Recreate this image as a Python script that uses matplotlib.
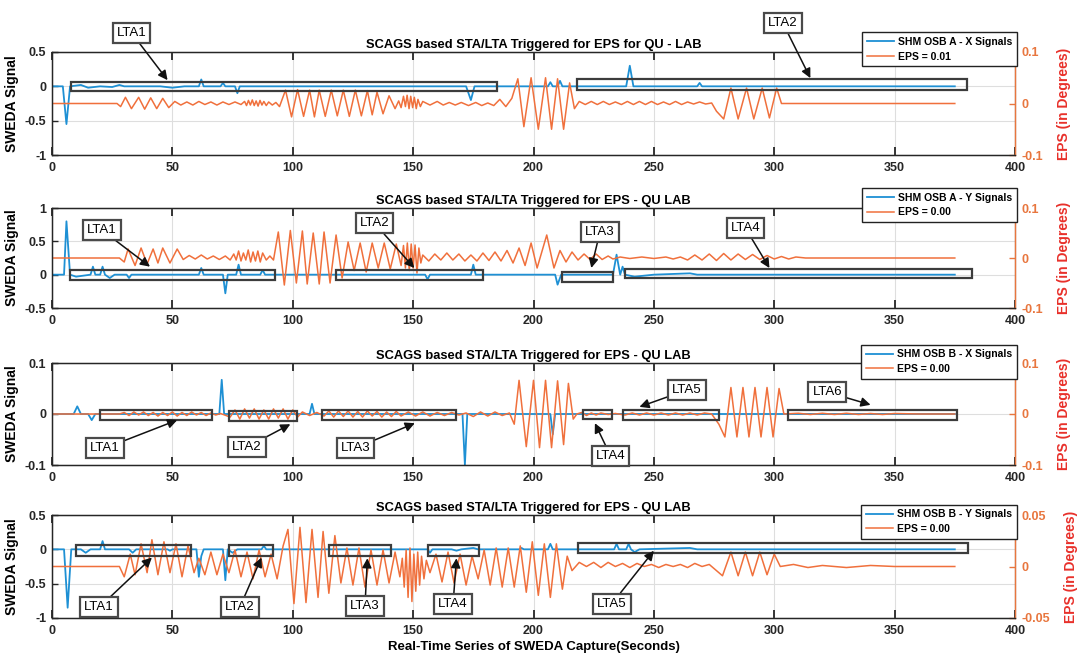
import matplotlib
matplotlib.use('Agg')
import matplotlib.pyplot as plt
from matplotlib.patches import Rectangle

plt.rcParams['font.family'] = ['Liberation Sans', 'DejaVu Sans']

# ---------------- data ----------------
TITLES = ['SCAGS based STA/LTA Triggered for EPS for QU - LAB',
          'SCAGS based STA/LTA Triggered for EPS - QU LAB',
          'SCAGS based STA/LTA Triggered for EPS - QU LAB',
          'SCAGS based STA/LTA Triggered for EPS - QU LAB']
SIG_LABELS = ['SHM OSB A - X Signals', 'SHM OSB A - Y Signals',
              'SHM OSB B - X Signals', 'SHM OSB B - Y Signals']
EPS_LABELS = ['EPS = 0.01', 'EPS = 0.00', 'EPS = 0.00', 'EPS = 0.00']
X_TICKS = [0, 50, 100, 150, 200, 250, 300, 350, 400]
LEFT_LIMS = [(-1, 0.5), (-0.5, 1), (-0.1, 0.1), (-1, 0.5)]
LEFT_TICKS = [[-1, -0.5, 0, 0.5], [-0.5, 0, 0.5, 1], [-0.1, 0, 0.1], [-1, -0.5, 0, 0.5]]
RIGHT_LIMS = [(-0.1, 0.1), (-0.1, 0.1), (-0.1, 0.1), (-0.05, 0.05)]
RIGHT_TICKS = [[-0.1, 0, 0.1], [-0.1, 0, 0.1], [-0.1, 0, 0.1], [-0.05, 0, 0.05]]

# SWEDA signal (left axis): (time, value)
P1_SIG = [(0, 0), (4.5, 0), (6, -0.55), (7.5, 0), (12, 0.02), (15, -0.02), (20, 0), (25, -0.01), (28, 0.02),
          (30, 0), (45, 0), (50, -0.02), (55, 0), (61, 0), (62, 0.1), (63, 0), (70, 0), (71, 0.05), (72, 0),
          (76, 0), (77, -0.1), (78, 0), (172, 0), (174, -0.2), (175.5, 0), (206, 0), (207, 0.06), (208, 0),
          (210, 0), (211, 0.08), (212, 0), (238.5, 0), (240, 0.3), (241.5, 0), (268, 0), (269, 0.05),
          (270, 0), (375, 0)]
P2_SIG = [(0, 0), (5, 0), (6, 0.8), (7.5, 0), (10, -0.03), (16, 0), (17, 0.12), (18, 0), (20, 0), (21, 0.12),
          (22, 0), (24, -0.05), (26, 0), (31, 0), (32, -0.05), (33, 0), (61, 0), (62, 0.1), (63, 0), (71, 0),
          (72, -0.28), (73, 0), (76.5, 0), (77.5, 0.15), (78.5, 0), (86.5, 0), (87.5, 0.07), (88.5, 0),
          (155, 0), (156, -0.07), (157, 0), (174, 0), (175, 0.15), (176, 0), (209, 0), (210, -0.15),
          (211.5, 0), (233, 0), (234.5, 0.3), (236, 0), (237, 0.12), (238, 0), (242, -0.03), (250, 0),
          (265, 0.02), (268, 0), (375, 0)]
P3_SIG = [(0, 0), (9, 0), (10.5, 0.015), (12, 0), (15, 0), (16.5, -0.012), (18, 0), (69.5, 0), (70.5, 0.067),
          (71.5, 0), (107, 0), (108, 0.02), (109, 0), (170.5, 0), (171.5, -0.1), (172.5, 0), (207, 0),
          (208, -0.04), (209, 0), (375, 0)]
P4_SIG = [(0, 0), (5, 0), (6.5, -0.85), (8, 0), (12, 0), (14, -0.05), (16, 0), (20, 0), (21, 0.12), (22, 0),
          (32, 0), (33.5, -0.05), (35, 0), (48, 0), (49, -0.02), (50, 0), (60, 0), (61, -0.4), (62, -0.1),
          (63, 0), (71, 0), (72, -0.45), (73, 0), (75, -0.05), (77, 0), (87, 0), (88, 0.05), (89, 0),
          (156, 0), (157, -0.05), (158, 0), (166, 0), (168, -0.02), (170, 0), (175, 0.02), (177, 0),
          (194, 0), (195, 0.02), (196, 0), (206, 0), (207, 0.08), (208, 0), (233.5, 0), (234.5, 0.08),
          (235.5, 0), (238.5, 0), (239.5, 0.08), (240.5, 0), (242, -0.04), (244, 0), (265, 0.02), (268, 0),
          (375, 0)]

# EPS (right axis, degrees): (time, value)
P1_EPS = [(0, 0), (27, 0), (28.5, -0.006), (30.5, 0.012), (33, -0.01), (36, 0.012), (38.5, -0.011),
          (41, 0.011), (43.5, -0.01), (46, 0.01), (48.5, -0.008), (51, 0.004), (53.5, -0.003), (56, 0.003),
          (58.5, -0.003), (61, 0.004), (63.5, -0.002), (66, 0.003), (68.5, -0.003), (71, 0.003),
          (73.5, -0.002), (76, 0.003), (78.5, -0.002), (80, 0.004), (80.8, -0.004), (81.6, 0.006),
          (82.4, -0.003), (83.2, 0.007), (84, -0.004), (84.8, 0.005), (85.6, -0.005), (86.4, 0.006),
          (87.2, -0.003), (88, 0.004), (89, -0.004), (90, 0.003), (91.5, -0.003), (93, 0.002),
          (94.5, -0.006), (97, 0.026), (99.5, -0.026), (102, 0.027), (104.5, -0.025), (107, 0.026),
          (109, -0.026), (111, 0.026), (113.5, -0.025), (116, 0.026), (118.5, -0.024), (121, 0.026),
          (123.5, -0.025), (126, 0.026), (128.5, -0.024), (131, 0.025), (133, -0.022), (135, 0.022),
          (137.5, -0.02), (140, 0.015), (142.5, -0.01), (144, 0.005), (145, -0.008), (146, 0.014),
          (146.8, -0.006), (147.5, 0.016), (148.3, -0.01), (149, 0.014), (149.8, -0.008), (150.5, 0.012),
          (151.3, -0.01), (152, 0.008), (153, -0.006), (154, 0.004), (157, -0.003), (160, 0.004),
          (162.5, -0.003), (165, 0.002), (167.5, -0.003), (170, 0.002), (173, -0.004), (176, 0.002),
          (178.5, -0.004), (181, 0.001), (183.5, -0.004), (186, 0.008), (188.5, -0.006), (191, 0.01),
          (193.5, 0.048), (196, -0.045), (199, 0.05), (202, -0.05), (205, 0.05), (207.5, -0.05),
          (210, 0.048), (212.5, -0.05), (215, 0.04), (217, -0.01), (219, 0.004), (221.5, -0.002),
          (224, 0.004), (226.5, -0.002), (229, 0.004), (231.5, -0.002), (234, 0.003), (236.5, -0.002),
          (239, 0.004), (241.5, -0.002), (244, 0.004), (246.5, -0.002), (249, 0.004), (251.5, -0.002),
          (254, 0.003), (256.5, -0.002), (259, 0.004), (261.5, -0.002), (264, 0.003), (266.5, -0.001),
          (269, 0.003), (271.5, -0.001), (274, 0.001), (276, -0.015), (279, -0.03), (282, 0.03),
          (285, -0.03), (288.5, 0.03), (291.5, -0.03), (295, 0.03), (298, -0.028), (301, 0.03),
          (303, 0.0), (375, 0)]
P2_EPS = [(0, 0), (28, 0), (30, -0.008), (31.6, 0.018), (34.5, -0.015), (37, 0.02), (39.5, -0.012),
          (42, 0.018), (44, -0.01), (46, 0.02), (49, -0.01), (52, 0.018), (54.5, -0.003), (57, 0.005),
          (59.5, -0.002), (62, 0.006), (64.5, -0.002), (67, 0.004), (69.5, -0.003), (72, 0.004),
          (74, -0.004), (75.5, 0.008), (76.5, -0.004), (77.5, 0.014), (78.5, -0.006), (79.5, 0.01),
          (80.5, -0.004), (81.5, 0.016), (82.5, -0.008), (83.5, 0.012), (84.5, -0.006), (85.5, 0.014),
          (86.5, -0.008), (87.5, 0.01), (89, -0.004), (90.5, 0.004), (92, -0.004), (94, 0.052),
          (96.5, -0.054), (99, 0.055), (101.5, -0.05), (104, 0.054), (106, -0.052), (108.5, 0.05),
          (111, -0.052), (113, 0.052), (115.5, -0.05), (118, 0.046), (120.5, -0.04), (123, 0.032),
          (125.5, -0.025), (128, 0.03), (130.5, -0.028), (133, 0.03), (135.5, -0.02), (138, 0.03),
          (140.5, -0.022), (143, 0.028), (145, -0.015), (146, 0.025), (146.8, -0.02), (147.6, 0.03),
          (148.4, -0.025), (149.2, 0.028), (150, -0.02), (150.8, 0.026), (151.6, -0.03), (152.4, 0.02),
          (153.2, -0.01), (154, 0.006), (156.5, -0.006), (159, 0.008), (161.5, -0.004), (164, 0.01),
          (166.5, -0.004), (169, 0.008), (171.5, -0.006), (174, 0.006), (176.5, -0.006), (179, 0.01),
          (181.5, -0.005), (184, 0.012), (186.5, -0.006), (189, 0.015), (191.5, -0.01), (194, 0.02),
          (196.5, -0.015), (199, 0.03), (201.5, -0.02), (205.5, 0.046), (208.5, -0.02), (211, 0.015),
          (213.5, -0.008), (216, 0.012), (218.5, -0.004), (221, 0.008), (223.5, -0.003), (226, 0.008),
          (228.5, -0.003), (231, 0.004), (233, -0.002), (236, 0.002), (240, -0.001), (245, 0.002),
          (250, -0.001), (255, 0.002), (258, -0.002), (261, 0.002), (264, -0.004), (267, 0.006),
          (270, -0.004), (273, 0.008), (276, -0.005), (279, 0.009), (282, -0.004), (285, 0.008),
          (288, -0.003), (291, 0.007), (294, -0.003), (297, 0.005), (300, -0.002), (303, 0.003),
          (306, -0.002), (309, 0.002), (313, 0), (375, 0)]
P3_EPS = [(0, 0), (28, 0), (30, 0.003), (32, -0.003), (34, 0.004), (36, -0.002), (38, 0.004), (40, -0.003),
          (42, 0.003), (44, -0.004), (46, 0.003), (48, -0.003), (50, 0.004), (52, -0.004), (54, 0.003),
          (56, -0.003), (58, 0.004), (60, -0.002), (62, 0.003), (64, -0.003), (66, 0.002), (68, -0.002),
          (70, 0.001), (74, -0.006), (76, 0.008), (78, -0.01), (80, 0.01), (82, -0.008), (84, 0.01),
          (86, -0.01), (88, 0.008), (90, -0.01), (92, 0.01), (94, -0.008), (96, 0.01), (98, -0.01),
          (100, 0.008), (102, -0.006), (104, 0.004), (107, -0.003), (110, 0.003), (113, -0.004),
          (115, 0.006), (117, -0.006), (119, 0.006), (121, -0.005), (123, 0.006), (125, -0.006),
          (127, 0.005), (129, -0.006), (131, 0.006), (133, -0.004), (135, 0.005), (137, -0.006),
          (139, 0.004), (141, -0.005), (143, 0.005), (145, -0.004), (148, 0.004), (151, -0.004),
          (154, 0.004), (157, -0.004), (160, 0.003), (163, -0.003), (166, 0.003), (169, -0.002),
          (172, 0.002), (175, -0.005), (178, 0.004), (181, -0.004), (184, 0.004), (187, -0.003),
          (190, 0.002), (192, -0.02), (194, 0.066), (197, -0.064), (200, 0.066), (202.5, -0.066),
          (205, 0.066), (207.5, -0.066), (210, 0.065), (212.5, -0.06), (214.5, 0.06), (216.5, -0.01),
          (218, 0.0), (220, 0.003), (222, -0.003), (224, 0.002), (226, -0.002), (228, 0.002),
          (231, -0.001), (234, 0.001), (238, -0.002), (241, 0.002), (244, -0.002), (247, 0.002),
          (250, -0.002), (253, 0.002), (256, -0.002), (259, 0.002), (262, -0.002), (265, 0.002),
          (268, -0.002), (271, 0.002), (274, 0), (277, -0.02), (279.5, -0.045), (282, 0.052),
          (284.5, -0.045), (287, 0.052), (289.5, -0.045), (292, 0.052), (294.5, -0.045), (297, 0.052),
          (299.5, -0.045), (302, 0.05), (304, 0.0), (310, 0.0015), (315, -0.001), (320, 0.0015),
          (325, -0.001), (330, 0.0015), (335, -0.001), (340, 0.001), (345, -0.001), (350, 0.001),
          (360, 0), (375, 0)]
P4_EPS = [(0, 0), (28, 0), (30, -0.01), (32.5, 0.012), (34.5, -0.008), (37, 0.022), (39.5, -0.006),
          (41.5, 0.026), (44, -0.008), (46.5, 0.024), (49, -0.006), (51.5, 0.022), (54, -0.01),
          (56.5, 0.02), (59, -0.006), (61, 0.008), (63.5, -0.008), (66, 0.014), (68.5, -0.008),
          (71, 0.012), (73.5, -0.006), (76, 0.016), (78.5, -0.01), (81, 0.014), (83.5, -0.012),
          (86, 0.016), (88.5, -0.01), (91, 0.012), (93.5, -0.012), (96, 0.02), (98, 0.036),
          (100.5, -0.036), (103, 0.038), (105.5, -0.035), (108, 0.036), (110.5, -0.03), (112.6, 0.034),
          (115, -0.026), (117.5, 0.03), (120, -0.016), (122.5, 0.018), (125, -0.018), (127.5, 0.018),
          (130, -0.02), (132.5, 0.016), (135, -0.018), (137.5, 0.016), (140, -0.016), (142.5, 0.014),
          (144.5, -0.01), (145.5, 0.008), (146.3, -0.02), (147.1, 0.016), (147.9, -0.03), (148.7, 0.018),
          (149.5, -0.034), (150.3, 0.012), (151.1, -0.024), (151.9, 0.014), (152.7, -0.018),
          (153.5, 0.01), (154.5, -0.012), (155.5, 0.006), (157, -0.006), (159.5, 0.012), (162, -0.015),
          (164.5, 0.014), (167, -0.016), (169.5, 0.012), (172, -0.018), (174.5, 0.01), (177, -0.012),
          (179.5, 0.016), (182, -0.018), (184.5, 0.018), (187, -0.02), (189.5, 0.018), (192, -0.02),
          (194.5, 0.02), (197, -0.025), (199.5, 0.024), (202, -0.028), (204.5, 0.022), (207, -0.03),
          (209.5, 0.022), (212, -0.022), (214, 0.01), (216, -0.004), (219, 0.004), (222, 0.0),
          (225, 0.004), (228, -0.001), (231, 0.004), (234, 0.0), (237, 0.003), (240, -0.001),
          (243, 0.003), (246, 0.0), (249, 0.002), (252, -0.001), (255, 0.002), (258, 0.0), (261, 0.002),
          (264, -0.001), (267, 0.003), (270, 0.0), (273, 0.002), (276, -0.004), (278.5, -0.009),
          (282, 0.014), (285, -0.009), (288, 0.014), (291, -0.009), (294, 0.014), (297, -0.008),
          (300, 0.012), (302.5, 0.0), (308, 0.002), (314, -0.001), (320, 0.001), (330, -0.001),
          (340, 0.001), (350, 0), (375, 0)]

# LTA boxes (left-axis units): (t_start, t_end, y_low, y_high)
P1_BOXES = [(8, 185, -0.07, 0.07), (218, 380, -0.05, 0.10)]
P2_BOXES = [(7.5, 92.6, -0.08, 0.07), (118, 179, -0.08, 0.07), (212, 233, -0.11, 0.04), (238, 382, -0.05, 0.08)]
P3_BOXES = [(20, 66.4, -0.012, 0.008), (73.5, 101.9, -0.014, 0.006), (112, 168, -0.012, 0.008),
            (220.5, 232.6, -0.01, 0.008), (237, 277, -0.012, 0.008), (305.7, 376, -0.012, 0.008)]
P4_BOXES = [(10, 57.7, -0.09, 0.06), (73.5, 92, -0.09, 0.06), (115, 140.8, -0.09, 0.06),
            (156, 177.3, -0.09, 0.06), (218.5, 380.4, -0.06, 0.09)]

# LTA labels: (text, label_t, label_y, arrow_t, arrow_y) in left-axis units
P1_LABELS = [('LTA1', 33, 0.78, 48, 0.09), ('LTA2', 303.6, 0.92, 315, 0.12)]
P2_LABELS = [('LTA1', 20.7, 0.67, 40.7, 0.12), ('LTA2', 134, 0.77, 150.5, 0.1),
             ('LTA3', 227.6, 0.64, 224, 0.1), ('LTA4', 288, 0.7, 298, 0.1)]
P3_LABELS = [('LTA1', 22, -0.067, 52, -0.012), ('LTA2', 81, -0.065, 99, -0.02),
             ('LTA3', 126, -0.067, 150.7, -0.018), ('LTA4', 232, -0.082, 225.5, -0.018),
             ('LTA5', 263.7, 0.047, 244, 0.014), ('LTA6', 322, 0.043, 340, 0.018)]
P4_LABELS = [('LTA1', 19.6, -0.845, 41.5, -0.12), ('LTA2', 78, -0.845, 87, -0.12),
             ('LTA3', 130, -0.83, 131, -0.13), ('LTA4', 166.6, -0.79, 168, -0.13),
             ('LTA5', 232.6, -0.79, 250, -0.02)]

LEGEND_TOP = [1.19, 1.20, 1.18, 1.10]

SIGS = [P1_SIG, P2_SIG, P3_SIG, P4_SIG]
EPSS = [P1_EPS, P2_EPS, P3_EPS, P4_EPS]
BOXES = [P1_BOXES, P2_BOXES, P3_BOXES, P4_BOXES]
LABELS = [P1_LABELS, P2_LABELS, P3_LABELS, P4_LABELS]

# ---------------- style ----------------
BLUE = '#1e90d4'
ORANGE = '#f0703c'
RAXIS = '#e8763e'
RED = '#e8302a'
DARK = '#262626'

W, H = 1083, 667
PANELS_PX = [(52, 155), (208, 308), (363, 465), (515, 618)]
LEFT_PX, RIGHT_PX = 52, 1015

fig = plt.figure(figsize=(W / 100, H / 100), dpi=100)

for i in range(4):
    top, bot = PANELS_PX[i]
    ax = fig.add_axes([LEFT_PX / W, 1 - bot / H, (RIGHT_PX - LEFT_PX) / W, (bot - top) / H])
    ax2 = ax.twinx()

    st = [p[0] for p in SIGS[i]]
    sv = [p[1] for p in SIGS[i]]
    et = [p[0] for p in EPSS[i]]
    ev = [p[1] for p in EPSS[i]]
    l1, = ax.plot(st, sv, color=BLUE, lw=1.3, label=SIG_LABELS[i])
    l2, = ax2.plot(et, ev, color=ORANGE, lw=1.1, label=EPS_LABELS[i])

    ax.set_xlim(0, 400)
    ax.set_xticks(X_TICKS)
    ax.set_ylim(*LEFT_LIMS[i])
    ax.set_yticks(LEFT_TICKS[i])
    ax.set_yticklabels([('%g' % v) for v in LEFT_TICKS[i]])
    ax2.set_ylim(*RIGHT_LIMS[i])
    ax2.set_yticks(RIGHT_TICKS[i])
    ax2.set_yticklabels([('%g' % v) for v in RIGHT_TICKS[i]])

    ax.grid(True, color='#dedede', lw=0.8)
    ax.set_axisbelow(True)
    ax.tick_params(axis='x', direction='in', length=6, width=1.3, colors=DARK, top=True,
                   labelsize=9, pad=5)
    ax.tick_params(axis='y', direction='in', length=4, width=1.0, colors=DARK, labelsize=9, pad=4)
    ax2.tick_params(axis='y', direction='in', length=4, width=1.0, colors=RAXIS, labelsize=9, pad=5)
    for lab in ax.get_xticklabels() + ax.get_yticklabels() + ax2.get_yticklabels():
        lab.set_fontweight('bold')
    for s in ['left', 'top', 'bottom']:
        ax2.spines[s].set_color(DARK)
        ax2.spines[s].set_linewidth(1.0)
    ax2.spines['right'].set_color(RAXIS)
    ax2.spines['right'].set_linewidth(1.0)

    ax.set_title(TITLES[i], fontsize=9.3, fontweight='bold', pad=3)
    ax.set_ylabel('SWEDA Signal', fontsize=10, fontweight='bold', labelpad=4)
    ax2.set_ylabel('EPS (in Degrees)', fontsize=10, fontweight='bold', color=RED, labelpad=10)

    for (x0, x1, y0, y1) in BOXES[i]:
        ax2.add_patch(Rectangle((x0, y0), x1 - x0, y1 - y0, transform=ax.transData, fill=False,
                                ec='#3c3c3c', lw=1.6, zorder=5, clip_on=False))

    for (txt, lx, ly, axx, ayy) in LABELS[i]:
        ax2.annotate(txt, xy=(axx, ayy), xycoords=ax.transData, xytext=(lx, ly), textcoords=ax.transData,
                     ha='center', va='center', fontsize=9.5, annotation_clip=False, zorder=6,
                     bbox=dict(boxstyle='square,pad=0.3', fc='white', ec='#4a4a4a', lw=1.6),
                     arrowprops=dict(arrowstyle='-|>', color='#111111', lw=1.1, mutation_scale=14,
                                     shrinkA=0, shrinkB=0))

    leg = ax2.legend(handles=[l1, l2], loc='upper right', bbox_to_anchor=(1.002, LEGEND_TOP[i]),
                     frameon=True, fancybox=False, edgecolor='#222222', framealpha=1,
                     prop={'weight': 'bold', 'size': 7.5}, handlelength=2.6, borderpad=0.45,
                     labelspacing=0.45, handletextpad=0.4, borderaxespad=0)
    leg.get_frame().set_linewidth(1.0)
    leg.set_zorder(10)

    if i == 3:
        ax.set_xlabel('Real-Time Series of SWEDA Capture(Seconds)', fontsize=9.5, fontweight='bold',
                      labelpad=3)

fig.savefig('out.png', dpi=100)
